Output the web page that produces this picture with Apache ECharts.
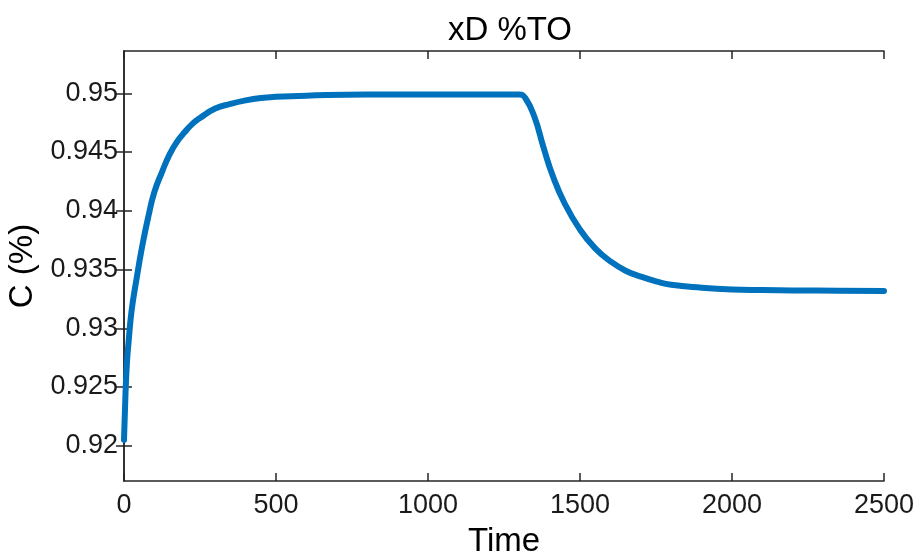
<!DOCTYPE html>
<html>
<head>
<meta charset="utf-8">
<script src="https://cdn.jsdelivr.net/npm/echarts@6/dist/echarts.min.js"></script>
<style>html,body{margin:0;padding:0;background:#fff}#c{width:919px;height:559px}</style>
</head>
<body>
<div id="c"></div>
<script>
// Data
var timeValues = [0, 5, 10, 15, 25, 40, 60, 80, 100, 125, 150, 175, 200, 225, 250, 300, 350, 400, 450, 500, 600, 800, 1000, 1200, 1300, 1320, 1350, 1380, 1410, 1450, 1500, 1550, 1600, 1650, 1700, 1750, 1800, 1900, 2000, 2100, 2200, 2350, 2500];
var cValues = [0.9205, 0.9245, 0.9272, 0.9288, 0.9315, 0.9340, 0.9370, 0.9395, 0.9416, 0.9433, 0.9448, 0.9459, 0.9467, 0.9474, 0.9479, 0.9487, 0.9491, 0.9494, 0.9496, 0.9497, 0.9498, 0.9499, 0.9499, 0.9499, 0.9499, 0.9496, 0.9480, 0.9454, 0.9430, 0.9406, 0.9384, 0.9368, 0.9357, 0.9349, 0.9344, 0.9340, 0.9337, 0.93345, 0.9333, 0.93325, 0.93322, 0.9332, 0.93318];
var yTicks = [0.92, 0.925, 0.93, 0.935, 0.94, 0.945, 0.95];
var xTicks = [0, 500, 1000, 1500, 2000, 2500];
var titleText = 'xD %TO';
var xName = 'Time';
var yName = 'C (%)';

var seriesData = timeValues.map(function (t, i) { return [t, cValues[i]]; });
var axisColor = '#262626';
var font = 'Arial, "Liberation Sans", Helvetica, sans-serif';

var chart = echarts.init(document.getElementById('c'), null, {renderer: 'canvas'});
var common = {
  axisLine: {show: true, lineStyle: {color: axisColor, width: 1.5}},
  splitLine: {show: false}
};
chart.setOption({
  animation: false,
  backgroundColor: '#ffffff',
  title: {
    text: titleText, left: 505, top: 9, textAlign: 'center',
    textStyle: {fontFamily: font, fontSize: 33, fontWeight: 'normal', color: '#000'}
  },
  grid: {left: 124, right: 35, top: 51, bottom: 78, containLabel: false, outerBoundsMode: 'none'},
  xAxis: [{
    type: 'value', min: 0, max: 2500, interval: 500, position: 'bottom',
    name: xName, nameLocation: 'middle', nameGap: 44,
    nameTextStyle: {fontFamily: font, fontSize: 33, color: '#000'},
    axisLine: common.axisLine, splitLine: common.splitLine,
    axisTick: {show: true, inside: true, length: 8, lineStyle: {color: axisColor, width: 1.5}, customValues: xTicks},
    axisLabel: {fontFamily: font, fontSize: 27, color: '#1a1a1a', margin: 11, customValues: xTicks,
      formatter: function (v) { return String(v); }}
  }, {
    type: 'value', min: 0, max: 2500, interval: 500, position: 'top',
    axisLine: common.axisLine, splitLine: common.splitLine,
    axisTick: {show: true, inside: true, length: 8, lineStyle: {color: axisColor, width: 1.5}, customValues: xTicks},
    axisLabel: {show: false}
  }],
  yAxis: [{
    type: 'value', min: 0.917, max: 0.9536, position: 'left',
    name: yName, nameLocation: 'middle', nameGap: 82, nameRotate: 90,
    nameTextStyle: {fontFamily: font, fontSize: 33, color: '#000'},
    axisLine: common.axisLine, splitLine: common.splitLine,
    axisTick: {show: true, inside: true, length: 8, lineStyle: {color: axisColor, width: 1.5}, customValues: yTicks},
    axisLabel: {fontFamily: font, fontSize: 27, color: '#1a1a1a', margin: 6, customValues: yTicks,
      formatter: function (v) { return String(parseFloat(v.toFixed(4))); }}
  }, {
    type: 'value', min: 0.917, max: 0.9536, position: 'right',
    axisLine: common.axisLine, splitLine: common.splitLine,
    axisTick: {show: true, inside: true, length: 8, lineStyle: {color: axisColor, width: 1.5}, customValues: yTicks},
    axisLabel: {show: false}
  }],
  series: [{
    type: 'line', xAxisIndex: 0, yAxisIndex: 0,
    data: seriesData, smooth: 0.5, showSymbol: false,
    lineStyle: {color: '#0072BD', width: 6, cap: 'round', join: 'round'}
  }]
});
</script>
</body>
</html>
